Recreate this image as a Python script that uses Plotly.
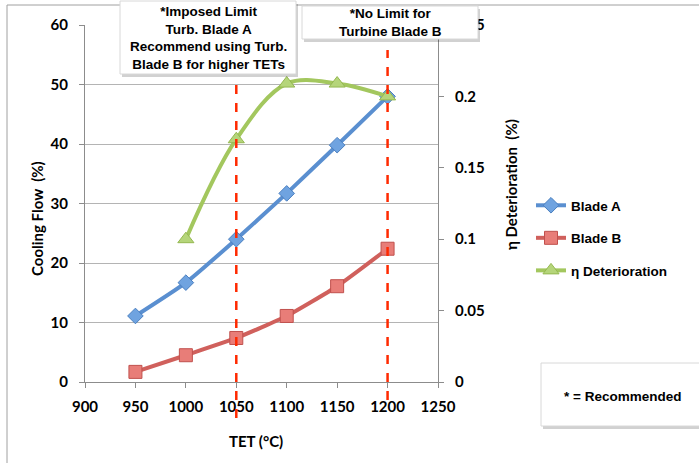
import plotly.graph_objects as go

# ---- data ----
tet = [950, 1000, 1050, 1100, 1150, 1200]
blade_a = [11.1, 16.7, 24.0, 31.7, 39.8, 48.0]
blade_b = [1.7, 4.5, 7.4, 11.1, 16.1, 22.4]
eta_tet = [1000, 1050, 1100, 1150, 1200]
eta_det = [0.100, 0.170, 0.209, 0.209, 0.200]
limit_tets = [1050, 1200]
x_ticks = [900, 950, 1000, 1050, 1100, 1150, 1200, 1250]
y_ticks = [0, 10, 20, 30, 40, 50, 60]
y2_ticks = [0, 0.05, 0.1, 0.15, 0.2, 0.25]

W, H = 699, 463
L, R, T, B = 85, 438, 25, 382


def px(p):
    return (p - L) / (R - L)


def py(p):
    return (B - p) / (B - T)


BLUE = "#5A8FD0"
RED = "#D0605C"
GREEN = "#A3C75E"
TICKFONT = dict(family="Lato", size=15, color="#000000", weight="bold")
ANNFONT = dict(family="Liberation Sans", size=13.5, color="#000000", weight="bold")
TITLEFONT = dict(family="Lato", size=15, color="#000", weight="bold")

fig = go.Figure()
fig.add_trace(go.Scatter(
    x=tet, y=blade_a, name="Blade A", mode="lines+markers", legendgroup="a",
    line=dict(color=BLUE, width=4, shape="spline", smoothing=0.5),
    marker=dict(symbol="diamond", size=12, color="#6FA3E0", line=dict(color="#4A7FC0", width=1))))
fig.add_trace(go.Scatter(
    x=tet, y=blade_b, name="Blade B", mode="lines+markers", legendgroup="b",
    line=dict(color=RED, width=4, shape="spline", smoothing=0.5),
    marker=dict(symbol="square", size=13, color="#E87D78", line=dict(color="#C0504D", width=1))))
fig.add_trace(go.Scatter(
    x=eta_tet, y=eta_det, name="η Deterioration", mode="lines+markers", legendgroup="c",
    yaxis="y2",
    line=dict(color=GREEN, width=4, shape="spline", smoothing=1.0),
    marker=dict(symbol="triangle-up", size=14, color="#B5D57A", line=dict(color="#94B850", width=1))))

shapes = []
# outer frame
shapes.append(dict(type="rect", xref="paper", yref="paper", x0=px(7), x1=px(720), y0=py(5), y1=py(480),
                   line=dict(color="#A0A0A0", width=1), fillcolor="rgba(0,0,0,0)", layer="below"))
# dashed limit lines
dash_extent = {1050: (77, 418), 1200: (50, 400)}
for t in limit_tets:
    y_top, y_bot = dash_extent[t]
    shapes.append(dict(type="line", xref="x", yref="paper", x0=t, x1=t, y0=py(y_bot), y1=py(y_top),
                       line=dict(color="#FF2A00", width=2.5, dash="dash")))


def box(x0, y0, x1, y1):
    shapes.append(dict(type="rect", xref="paper", yref="paper", x0=px(x0 + 2), x1=px(x1 + 2), y0=py(y1 + 3),
                       y1=py(y0 + 3), line=dict(width=0), fillcolor="rgba(0,0,0,0.18)"))
    shapes.append(dict(type="rect", xref="paper", yref="paper", x0=px(x0), x1=px(x1), y0=py(y1), y1=py(y0),
                       line=dict(color="#D8D8D8", width=1), fillcolor="#FFFFFF"))


box(120, 1, 296, 74)
box(302, 6, 478, 39)
box(541, 363, 705, 426)


def ann(text, x, y, font, angle=0):
    return dict(text=text, xref="paper", yref="paper", x=px(x), y=py(y), xanchor="center", yanchor="middle",
                showarrow=False, font=font, align="center", textangle=angle)


annotations = [
    ann("*Imposed Limit<br>Turb. Blade A<br>Recommend using Turb.<br>Blade B for higher TETs", 208, 38, ANNFONT),
    ann("*No Limit for<br>Turbine Blade B", 390, 22, ANNFONT),
    ann("* = Recommended", 622, 396, ANNFONT),
    ann("Cooling Flow  (%)", 37, 218, TITLEFONT, -90),
    ann("η Deterioration  (%)", 511, 185, TITLEFONT, -90),
    ann("TET (°C)", 256, 441, TITLEFONT),
]

fig.update_layout(
    width=W, height=H,
    margin=dict(l=L, r=W - R, t=T, b=H - B),
    paper_bgcolor="white", plot_bgcolor="white",
    xaxis=dict(range=[900, 1250], tickvals=x_ticks, showgrid=False, showline=True, linecolor="#8C8C8C",
               ticks="outside", ticklen=5, tickcolor="#8C8C8C", tickfont=TICKFONT, zeroline=False,
               ticklabelstandoff=6),
    yaxis=dict(range=[0, 60], tickvals=y_ticks, showgrid=True, gridcolor="#B4B4B4", gridwidth=1,
               showline=True, linecolor="#8C8C8C", ticks="outside", ticklen=5, tickcolor="#8C8C8C",
               tickfont=TICKFONT, zeroline=False, ticklabelstandoff=8),
    yaxis2=dict(range=[0, 0.25], tickvals=y2_ticks, overlaying="y", side="right", showgrid=False,
                showline=True, linecolor="#8C8C8C", ticks="outside", ticklen=5, tickcolor="#8C8C8C",
                tickfont=TICKFONT, zeroline=False, ticklabelstandoff=8),
    legend=dict(x=px(531), y=py(190), xanchor="left", yanchor="top",
                font=dict(family="Liberation Sans", size=13.5, color="#000", weight="bold"),
                tracegroupgap=12, bgcolor="rgba(0,0,0,0)"),
    shapes=shapes,
    annotations=annotations,
    showlegend=True,
)

fig.write_html("out.html")
